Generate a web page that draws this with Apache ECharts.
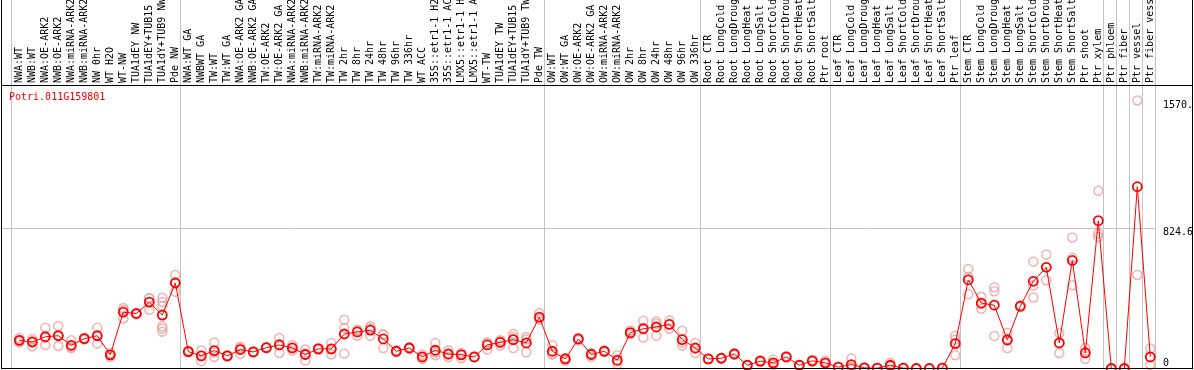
<!DOCTYPE html>
<html>
<head>
<meta charset="utf-8">
<script src="https://cdn.jsdelivr.net/npm/echarts@6/dist/echarts.min.js"></script>
<style>html,body{margin:0;padding:0;background:#fff}#c{width:1194px;height:370px}</style>
</head>
<body>
<div id="c"></div>
<script>
const title = 'Potri.011G159801';
const categories = [
 'NWA:WT','NWB:WT','NWA:OE-ARK2','NWB:OE-ARK2','NWA:miRNA-ARK2','NWB:miRNA-ARK2','NW 0hr','WT H2O','WT-NW','TUA1dEY NW','TUA1dEY+TUB15 NW','TUA1dY+TUB9 NW','Pde NW',
 'NWA:WT GA','NWBWT GA','TW:WT','TW:WT GA','NWA:OE-ARK2 GA','NWB:OE-ARK2 GA','TW:OE-ARK2','TW:OE-ARK2 GA','NWA:miRNA-ARK2 GA','NWB:miRNA-ARK2 GA','TW:miRNA-ARK2','TW:miRNA-ARK2 GA','TW 2hr','TW 8hr','TW 24hr','TW 48hr','TW 96hr','TW 336hr','WT ACC','35S::etr1-1 H2O','35S::etr1-1 ACC','LMX5::etr1-1 H2O','LMX5::etr1-1 ACC','WT-TW','TUA1dEY TW','TUA1dEY+TUB15 TW','TUA1dY+TUB9 TW','Pde TW',
 'OW:WT','OW:WT GA','OW:OE-ARK2','OW:OE-ARK2 GA','OW:miRNA-ARK2','OW:miRNA-ARK2 GA','OW 2hr','OW 8hr','OW 24hr','OW 48hr','OW 96hr','OW 336hr',
 'Root CTR','Root LongCold','Root LongDrought','Root LongHeat','Root LongSalt','Root ShortCold','Root ShortDrought','Root ShortHeat','Root ShortSalt','Ptr root',
 'Leaf CTR','Leaf LongCold','Leaf LongDrought','Leaf LongHeat','Leaf LongSalt','Leaf ShortCold','Leaf ShortDrought','Leaf ShortHeat','Leaf ShortSalt','Ptr leaf',
 'Stem CTR','Stem LongCold','Stem LongDrought','Stem LongHeat','Stem LongSalt','Stem ShortCold','Stem ShortDrought','Stem ShortHeat','Stem ShortSalt','Ptr shoot','Ptr xylem',
 'Ptr phloem','Ptr fiber','Ptr vessel','Ptr fiber vessel'
];
const means = [
 165,155,186,192,136,175,192,80,330,322,389,313,501,
 99,74,105,74,111,97,122,138,121,82,115,115,202,214,225,173,101,120,68,107,85,80,68,138,153,169,150,301,
 101,56,173,82,101,49,210,233,243,258,169,120,
 56,60,85,19,43,33,68,19,45,33,
 8,23,4,2,19,2,0,0,2,146,
 519,383,371,167,365,511,593,150,633,91,866,
 0,0,1065,68
];
const replicates = [
 [178,165,152],[173,130,162],[239,138,181],[249,132,195],[165,120,124],[180,170,175],[239,146,190],[91,68,80],[354,293,343],[326,318,322],[413,410,344],[414,390,367,247,235,216],[548,449,506],
 [104,95,99],[105,43,74],[153,68,94],[78,70,74],[120,85,128],[100,94,97],[125,118,122],[179,91,144],[138,105,120],[111,47,88],[120,110,115],[150,82,113],[286,237,87],[227,192,223],[247,192,236],[202,120,197],[95,105,103],[125,115,120],[56,80,68],[150,78,93],[107,66,83],[60,90,90],[65,70,68],[153,111,150],[160,134,165],[202,120,185],[185,95,170],[324,290,289],
 [136,82,85],[45,62,61],[180,165,174],[68,90,88],[105,97,101],[78,25,44],[223,200,207],[280,181,238],[262,192,275],[282,233,259],[221,134,152],[150,91,119],
 [56,58,54],[60,62,58],[85,90,80],[19,17,21],[43,48,38],[52,25,22],[68,72,64],[19,17,21],[45,50,40],[45,28,26],
 [8,6,10],[58,5,6],[4,2,6],[2,1,3],[33,12,12],[2,1,3],[0,0,0],[0,0,0],[2,1,3],[192,170,78],
 [583,538,435],[420,350,380],[476,453,190],[208,120,173],[370,360,365],[626,486,416],[668,517,594],[208,91,150],[767,649,488],[120,56,97],[1041,791,771],
 [0,0,0],[0,0,0],[1570.6,548],[117,21,66]
];
const groupStarts = [0,13,41,53,63,73,84,85,86,87,88];
const yTickValues = [824.6, 1570.6];
const yTickLabels = ['824.6', '1570.'];
const yZeroLabel = '0';
const midLineValue = 824.6;
const yTopValue = 1649.2;

// layout (pixels)
const W = 1194, H = 370;
const gridLeft = 2, gridRight = 1156, gridBottom = 368.5, plotTop = 87, labelLineY = 85;
const firstCenter = 19.3, step = 13, sepOffset = 8 / 13;
const xMin = -(firstCenter - gridLeft) / step;
const xMax = xMin + (gridRight - gridLeft) / step;
const yMax = yTopValue * gridBottom / (gridBottom - plotTop);

const repData = [];
replicates.forEach((arr, i) => arr.forEach(v => repData.push([i, v])));
const meanData = means.map((v, i) => [i, v]);
const sepLines = groupStarts.map(s => ({ xAxis: s - sepOffset }));

const mono = 'DejaVu Sans Mono';
const chart = echarts.init(document.getElementById('c'), null, { renderer: 'canvas' });
chart.setOption({
  animation: false,
  backgroundColor: '#fff',
  title: { text: title, left: 9, top: 92, padding: 0,
    textStyle: { color: '#ff0000', fontFamily: mono, fontSize: 10, fontWeight: 'normal' } },
  grid: { left: gridLeft, right: W - gridRight, top: 0, bottom: H - gridBottom,
    containLabel: false, outerBoundsMode: 'none' },
  xAxis: {
    type: 'value', position: 'top', offset: -labelLineY, min: xMin, max: xMax,
    axisLine: { show: false }, axisTick: { show: false }, splitLine: { show: false },
    axisLabel: { customValues: categories.map((c, i) => i), rotate: 90, margin: 2,
      fontFamily: mono, fontSize: 10, color: '#000', hideOverlap: false,
      formatter: v => categories[Math.round(v)] || '' }
  },
  yAxis: [
    { type: 'value', position: 'right', min: 0, max: yMax,
      axisLine: { show: false }, axisTick: { show: false }, splitLine: { show: false },
      axisLabel: { customValues: yTickValues, margin: 7, verticalAlign: 'top',
        fontFamily: mono, fontSize: 10, color: '#000',
        formatter: v => { const k = yTickValues.indexOf(v); return k >= 0 ? yTickLabels[k] : ''; } } },
    { type: 'value', position: 'right', min: 0, max: yMax,
      axisLine: { show: false }, axisTick: { show: false }, splitLine: { show: false },
      axisLabel: { customValues: [0], margin: 7, verticalAlign: 'bottom',
        fontFamily: mono, fontSize: 10, color: '#000', formatter: () => yZeroLabel } }
  ],
  series: [
    { type: 'line', data: [], silent: true,
      markLine: { silent: true, symbol: 'none', label: { show: false },
        lineStyle: { color: '#c4c4c4', width: 1, type: 'solid' },
        data: sepLines.concat([{ yAxis: midLineValue }]) } },
    { type: 'scatter', data: repData, symbol: 'circle', symbolSize: 9, clip: false,
      itemStyle: { color: 'rgba(0,0,0,0)', borderColor: '#eea0a0', borderWidth: 1.5 }, z: 3 },
    { type: 'line', data: meanData, symbol: 'circle', symbolSize: 9, showSymbol: true, clip: false,
      lineStyle: { color: '#ff0000', width: 1 },
      itemStyle: { color: 'rgba(0,0,0,0)', borderColor: '#ff0000', borderWidth: 1.8 }, z: 5 }
  ],
  graphic: [
    { type: 'line', shape: { x1: 1.5, y1: 0, x2: 1.5, y2: gridBottom }, style: { stroke: '#000', lineWidth: 1 }, z: 100 },
    { type: 'line', shape: { x1: 1192.5, y1: 0, x2: 1192.5, y2: gridBottom }, style: { stroke: '#000', lineWidth: 1 }, z: 100 },
    { type: 'line', shape: { x1: 1, y1: gridBottom, x2: 1193, y2: gridBottom }, style: { stroke: '#000', lineWidth: 1 }, z: 100 },
    { type: 'line', shape: { x1: 1, y1: labelLineY + 0.5, x2: 1193, y2: labelLineY + 0.5 }, style: { stroke: '#000', lineWidth: 1 }, z: 100 }
  ]
});
</script>
</body>
</html>
